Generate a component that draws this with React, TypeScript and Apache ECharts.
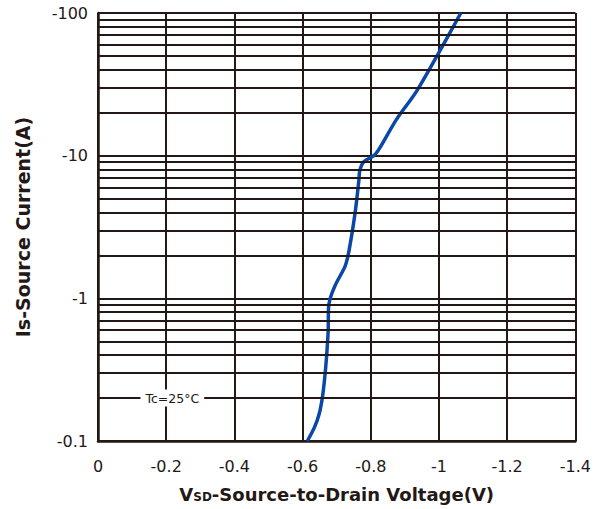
import React, { useEffect, useRef } from "react";
import * as echarts from "echarts";

// Magnitudes (the chart labels them as negative values)
const vsd = [0.614, 0.635, 0.649, 0.658, 0.664, 0.67, 0.675, 0.676, 0.681, 0.696, 0.725, 0.736, 0.754, 0.765, 0.768, 0.78, 0.809, 0.826, 0.875, 0.933, 1.0, 1.064];
const isCurrent = [0.1, 0.125, 0.156, 0.202, 0.265, 0.383, 0.59, 0.85, 1.0, 1.24, 1.69, 2.15, 3.98, 6.7, 7.9, 9.1, 10, 11.3, 17.9, 28, 53, 100];
const yMinor = [0.2, 0.3, 0.4, 0.5, 0.6, 0.7, 0.8, 0.9, 2, 3, 4, 5, 6, 7, 8, 9, 20, 30, 40, 50, 60, 70, 80, 90];
const noteText = "Tc=25°C";
const notePos = [0.218, 0.2];

const INK = "#231815";
const FONT = "'DejaVu Sans', sans-serif";

export default function App() {
  const ref = useRef<HTMLDivElement>(null);
  useEffect(() => {
    const chart = echarts.init(ref.current!, null, { renderer: "svg" });
    chart.setOption({
      animation: false,
      backgroundColor: "#fff",
      grid: { left: 98, right: 13, top: 13, bottom: 68, containLabel: false },
      xAxis: {
        type: "value",
        min: 0,
        max: 1.4,
        interval: 0.2,
        name: "{b|V}{s|SD}{b|-Source-to-Drain Voltage(V)}",
        nameLocation: "middle",
        nameGap: 44,
        nameTextStyle: {
          rich: {
            b: { fontFamily: FONT, fontWeight: "bold", fontSize: 18, color: INK },
            s: { fontFamily: FONT, fontWeight: "bold", fontSize: 12, color: INK, verticalAlign: "bottom", padding: [5, 0, 0, 0] },
          },
        },
        axisLine: { show: true, lineStyle: { color: INK, width: 2.5 } },
        axisTick: { show: false },
        axisLabel: {
          margin: 17,
          fontFamily: FONT,
          fontSize: 16,
          color: INK,
          formatter: (v: number) => (v === 0 ? "0" : "-" + Number(v.toPrecision(6))),
        },
        splitLine: { show: true, lineStyle: { color: INK, width: 2 } },
      },
      yAxis: {
        type: "log",
        logBase: 10,
        min: 0.1,
        max: 100,
        name: "Is-Source Current(A)",
        nameLocation: "middle",
        nameGap: 66,
        nameRotate: 90,
        nameTextStyle: { fontFamily: FONT, fontWeight: "bold", fontSize: 19, color: INK },
        axisLine: { show: true, lineStyle: { color: INK, width: 2.5 } },
        axisTick: { show: false },
        axisLabel: {
          margin: 10,
          fontFamily: FONT,
          fontSize: 16,
          color: INK,
          formatter: (v: number) => "-" + Number(v.toPrecision(6)),
        },
        splitLine: { show: true, lineStyle: { color: INK, width: 2 } },
      },
      series: [
        {
          type: "line",
          z: 1,
          data: [],
          silent: true,
          markLine: {
            silent: true,
            symbol: "none",
            label: { show: false },
            lineStyle: { color: INK, width: 2, type: "solid" },
            data: yMinor.map((v) => ({ yAxis: v })),
          },
          markPoint: {
            symbol: "rect",
            symbolSize: 0,
            label: {
              show: true,
              position: "inside",
              formatter: noteText,
              fontFamily: FONT,
              fontSize: 12.5,
              color: INK,
              backgroundColor: "#fff",
              padding: [2, 5, 2, 5],
            },
            data: [{ coord: notePos }],
          },
        },
        {
          type: "line",
          z: 3,
          data: vsd.map((v, i) => [v, isCurrent[i]]),
          showSymbol: false,
          symbol: "none",
          smooth: 0.3,
          lineStyle: { color: "#0a47a8", width: 3.5 },
        },
      ],
    });
    return () => chart.dispose();
  }, []);
  return <div ref={ref} style={{ position: "absolute", left: 0, top: 0, width: 594, height: 509 }} />;
}
